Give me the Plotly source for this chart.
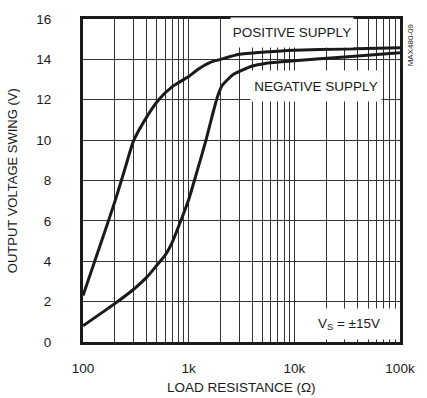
import plotly.graph_objects as go

# Data
res_pos = [100, 150, 200, 250, 300, 400, 520, 700, 1000, 1220, 1600, 2000, 3000, 5300, 10000, 30000, 100000]
v_pos = [2.3, 5.0, 6.95, 8.6, 9.95, 11.14, 12.0, 12.65, 13.15, 13.5, 13.85, 14.0, 14.25, 14.36, 14.45, 14.52, 14.58]

res_neg = [100, 200, 300, 400, 500, 600, 700, 820, 1000, 1200, 1450, 1670, 1860, 2070, 2660, 4000, 5300, 10000, 30000, 100000]
v_neg = [0.8, 1.9, 2.6, 3.2, 3.8, 4.3, 4.95, 5.85, 7.05, 8.45, 9.95, 11.2, 12.1, 12.7, 13.26, 13.67, 13.8, 13.93, 14.12, 14.33]

x_tickvals = [100, 1000, 10000, 100000]
x_ticktext = ["100", "1k", "10k", "100k"]
y_tickvals = [0, 2, 4, 6, 8, 10, 12, 14, 16]

FONT = "Liberation Sans, Arial, sans-serif"
INK = "#1a1a1a"

fig = go.Figure()
fig.add_trace(go.Scatter(x=res_pos, y=v_pos, mode="lines",
                         line=dict(color=INK, width=3, shape="spline", smoothing=0.5),
                         hoverinfo="skip", showlegend=False))
fig.add_trace(go.Scatter(x=res_neg, y=v_neg, mode="lines",
                         line=dict(color=INK, width=3, shape="spline", smoothing=0.5),
                         hoverinfo="skip", showlegend=False))

ann_font = dict(family=FONT, size=13.5, color=INK)
# labels with white boxes that hide the grid behind them
fig.add_annotation(xref="paper", yref="paper", x=0.66, y=0.957, text="POSITIVE SUPPLY",
                   showarrow=False, font=ann_font, xanchor="center", yanchor="middle",
                   bgcolor="white", width=122, height=29, borderpad=0)
fig.add_annotation(xref="paper", yref="paper", x=0.736, y=0.794, text="NEGATIVE SUPPLY",
                   showarrow=False, font=ann_font, xanchor="center", yanchor="middle",
                   bgcolor="white", width=130, height=30, borderpad=0)
fig.add_annotation(xref="paper", yref="paper", x=0.84, y=0.055, text="V<sub>S</sub> = ±15V",
                   showarrow=False, font=ann_font, xanchor="center", yanchor="middle",
                   bgcolor="white", width=96, height=30, borderpad=0)
fig.add_annotation(xref="paper", yref="paper", x=1.033, y=0.92, text="MAX480-09",
                   showarrow=False, textangle=-90, font=dict(family=FONT, size=8, color=INK),
                   xanchor="center", yanchor="middle")
fig.add_annotation(xref="paper", yref="paper", x=-0.222, y=0.5, text="OUTPUT VOLTAGE SWING (V)",
                   showarrow=False, textangle=-90, font=dict(family=FONT, size=13, color=INK),
                   xanchor="center", yanchor="middle")
fig.add_annotation(xref="paper", yref="paper", x=0.5, y=-0.141, text="LOAD RESISTANCE (Ω)",
                   showarrow=False, font=dict(family=FONT, size=13.5, color=INK),
                   xanchor="center", yanchor="middle")

fig.update_xaxes(type="log", range=[2, 5], tickvals=x_tickvals, ticktext=x_ticktext,
                 showgrid=True, gridcolor="#333333", gridwidth=1,
                 minor=dict(dtick="D1", showgrid=True, gridcolor="#333333", gridwidth=1, ticks=""),
                 showline=True, linecolor=INK, linewidth=3, mirror=True,
                 ticks="", ticklabelstandoff=12, zeroline=False,
                 tickfont=dict(family=FONT, size=13.5, color=INK))
fig.update_yaxes(range=[0, 16], tickvals=y_tickvals,
                 showgrid=True, gridcolor="#333333", gridwidth=1,
                 showline=True, linecolor=INK, linewidth=3, mirror=True,
                 ticks="", ticklabelstandoff=26, zeroline=False,
                 tickfont=dict(family=FONT, size=13.5, color=INK))

fig.update_layout(width=427, height=398, margin=dict(l=83, r=19, t=16, b=56),
                  paper_bgcolor="white", plot_bgcolor="white", showlegend=False)

fig.write_html("out.html")
